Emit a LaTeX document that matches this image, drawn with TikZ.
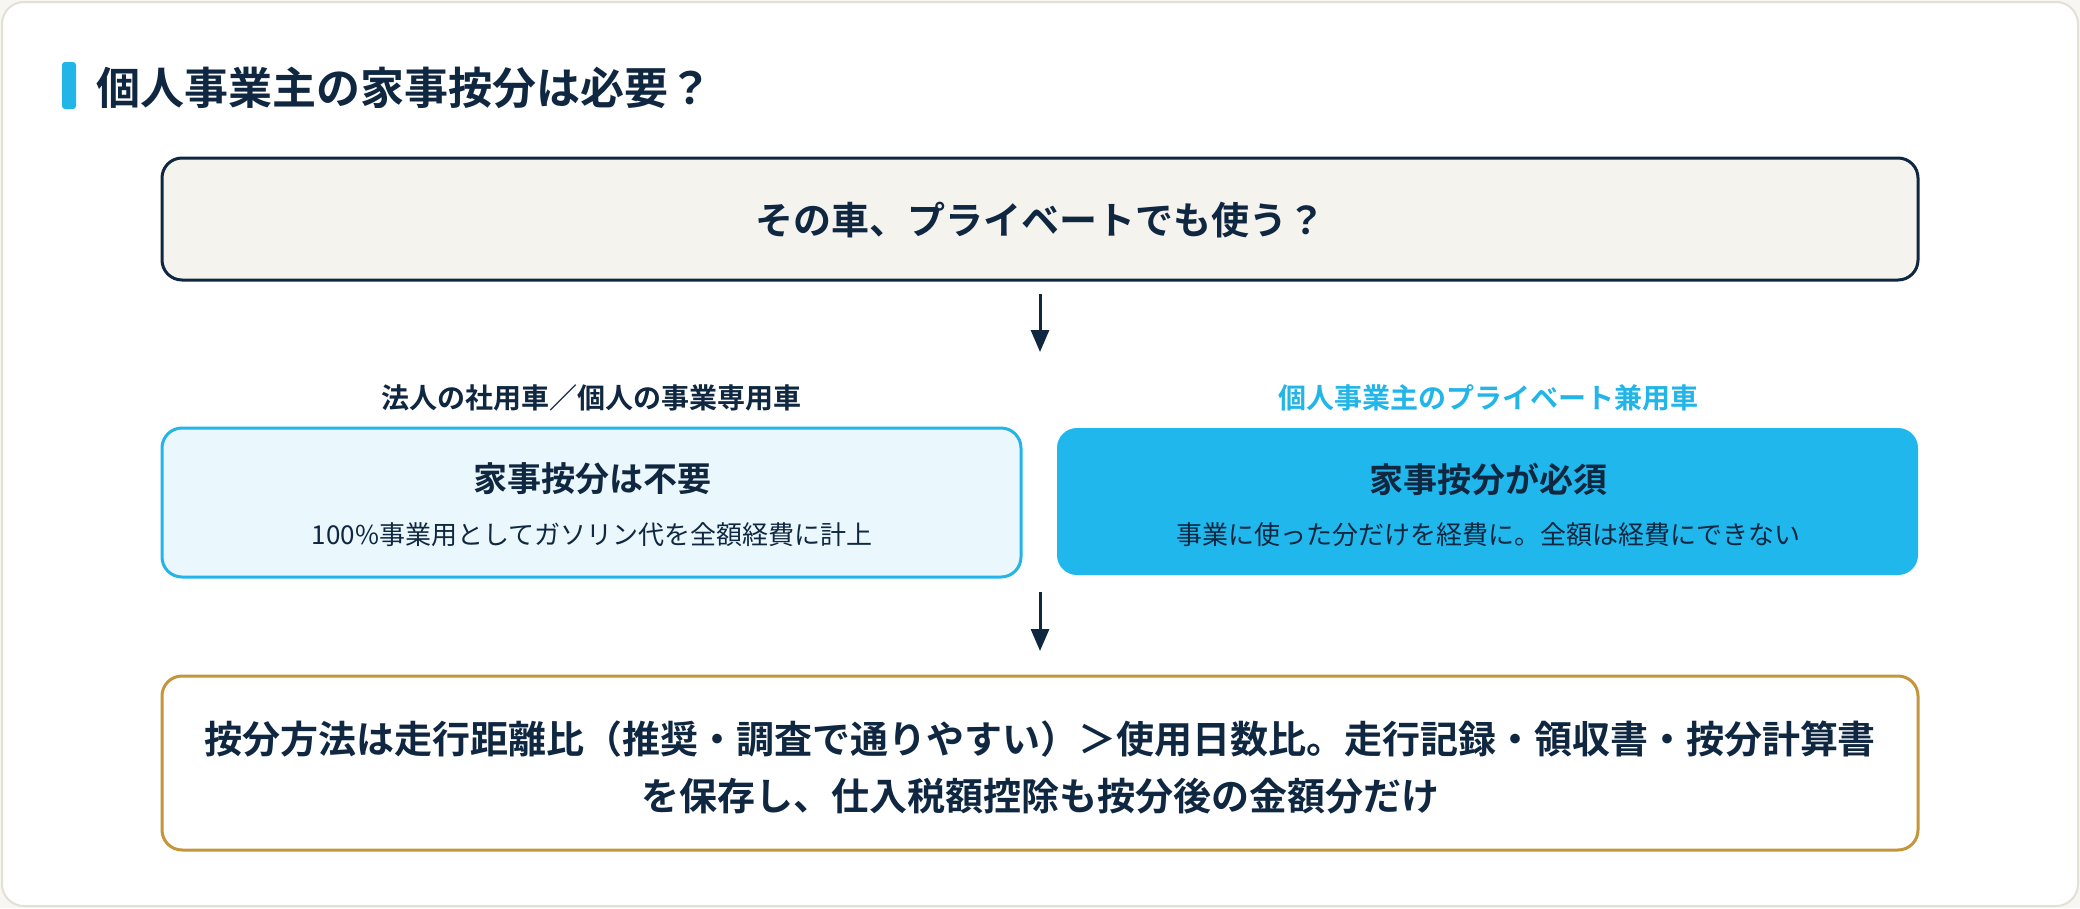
\documentclass[tikz,border=0pt]{standalone}
\usepackage{fontspec}
\setmainfont{Noto Sans CJK JP}[BoldFont={Noto Sans CJK JP Bold}]
\usetikzlibrary{arrows.meta}
\definecolor{navy}{HTML}{0F2740}
\definecolor{sky}{HTML}{22B5E8}
\definecolor{skyfill}{HTML}{EAF7FC}
\definecolor{skysolid}{HTML}{20B8EC}
\definecolor{gold}{HTML}{C4953A}
\definecolor{cream}{HTML}{F5F3EE}
\definecolor{cardline}{HTML}{E3E1D6}
\definecolor{pagebg}{HTML}{F7F6F2}
\tikzset{
  box/.style={rounded corners=20pt, line width=3pt, inner sep=0pt},
  flowarrow/.style={draw=navy, line width=3pt, -{Triangle[width=18pt,length=22pt]}},
  txt/.style={text=navy, inner sep=0pt, align=center},
}
\begin{document}
\begin{tikzpicture}[x=1pt,y=-1pt]
\useasboundingbox (0,0) rectangle (2080,908);
\fill[pagebg] (0,0) rectangle (2080,908);
\draw[cardline, fill=white, line width=2pt, rounded corners=22pt] (2,2) rectangle (2078,906);
% title
\fill[sky, rounded corners=3pt] (62,62) rectangle (76,109);
\node[txt, anchor=west, font=\fontsize{44}{50}\selectfont\bfseries] (title) at (96,88) {個人事業主の家事按分は必要？};
% top box
\node[box, draw=navy, fill=cream, minimum width=1756pt, minimum height=122pt] (q) at (1040,219) {};
\node[txt, font=\fontsize{38}{46}\selectfont\bfseries] (qt) at (1040,220) {その車、プライベートでも使う？};
% arrow 1
\coordinate (a1s) at (1040,294);
\coordinate (a1e) at (1040,352);
\draw[flowarrow] (a1s) -- (a1e);
% labels
\node[txt, font=\fontsize{28}{34}\selectfont\bfseries] (ll) at (591,398) {法人の社用車／個人の事業専用車};
\node[txt, text=sky, font=\fontsize{28}{34}\selectfont\bfseries] (rl) at (1488,398) {個人事業主のプライベート兼用車};
% left box
\node[box, draw=sky, fill=skyfill, minimum width=859pt, minimum height=149pt] (lb) at (591.5,502.5) {};
\node[txt, font=\fontsize{34}{40}\selectfont\bfseries] (lbt) at (592,479) {家事按分は不要};
\node[txt, font=\fontsize{26}{32}\selectfont] (lbs) at (592,535) {100\%事業用としてガソリン代を全額経費に計上};
% right box
\node[box, fill=skysolid, minimum width=861pt, minimum height=147pt] (rb) at (1487.5,501.5) {};
\node[txt, font=\fontsize{34}{40}\selectfont\bfseries] (rbt) at (1488,479) {家事按分が必須};
\node[txt, font=\fontsize{26}{32}\selectfont] (rbs) at (1488,535) {事業に使った分だけを経費に。全額は経費にできない};
% arrow 2
\coordinate (a2s) at (1040,592);
\coordinate (a2e) at (1040,651);
\draw[flowarrow] (a2s) -- (a2e);
% bottom box
\node[box, draw=gold, fill=white, minimum width=1756pt, minimum height=174pt] (bb) at (1040,763) {};
\node[txt, font=\fontsize{38}{57}\selectfont\bfseries] (bbt) at (1040,767) {按分方法は走行距離比（推奨・調査で通りやすい）＞使用日数比。走行記録・領収書・按分計算書\\ を保存し、仕入税額控除も按分後の金額分だけ};
\end{tikzpicture}
\end{document}
